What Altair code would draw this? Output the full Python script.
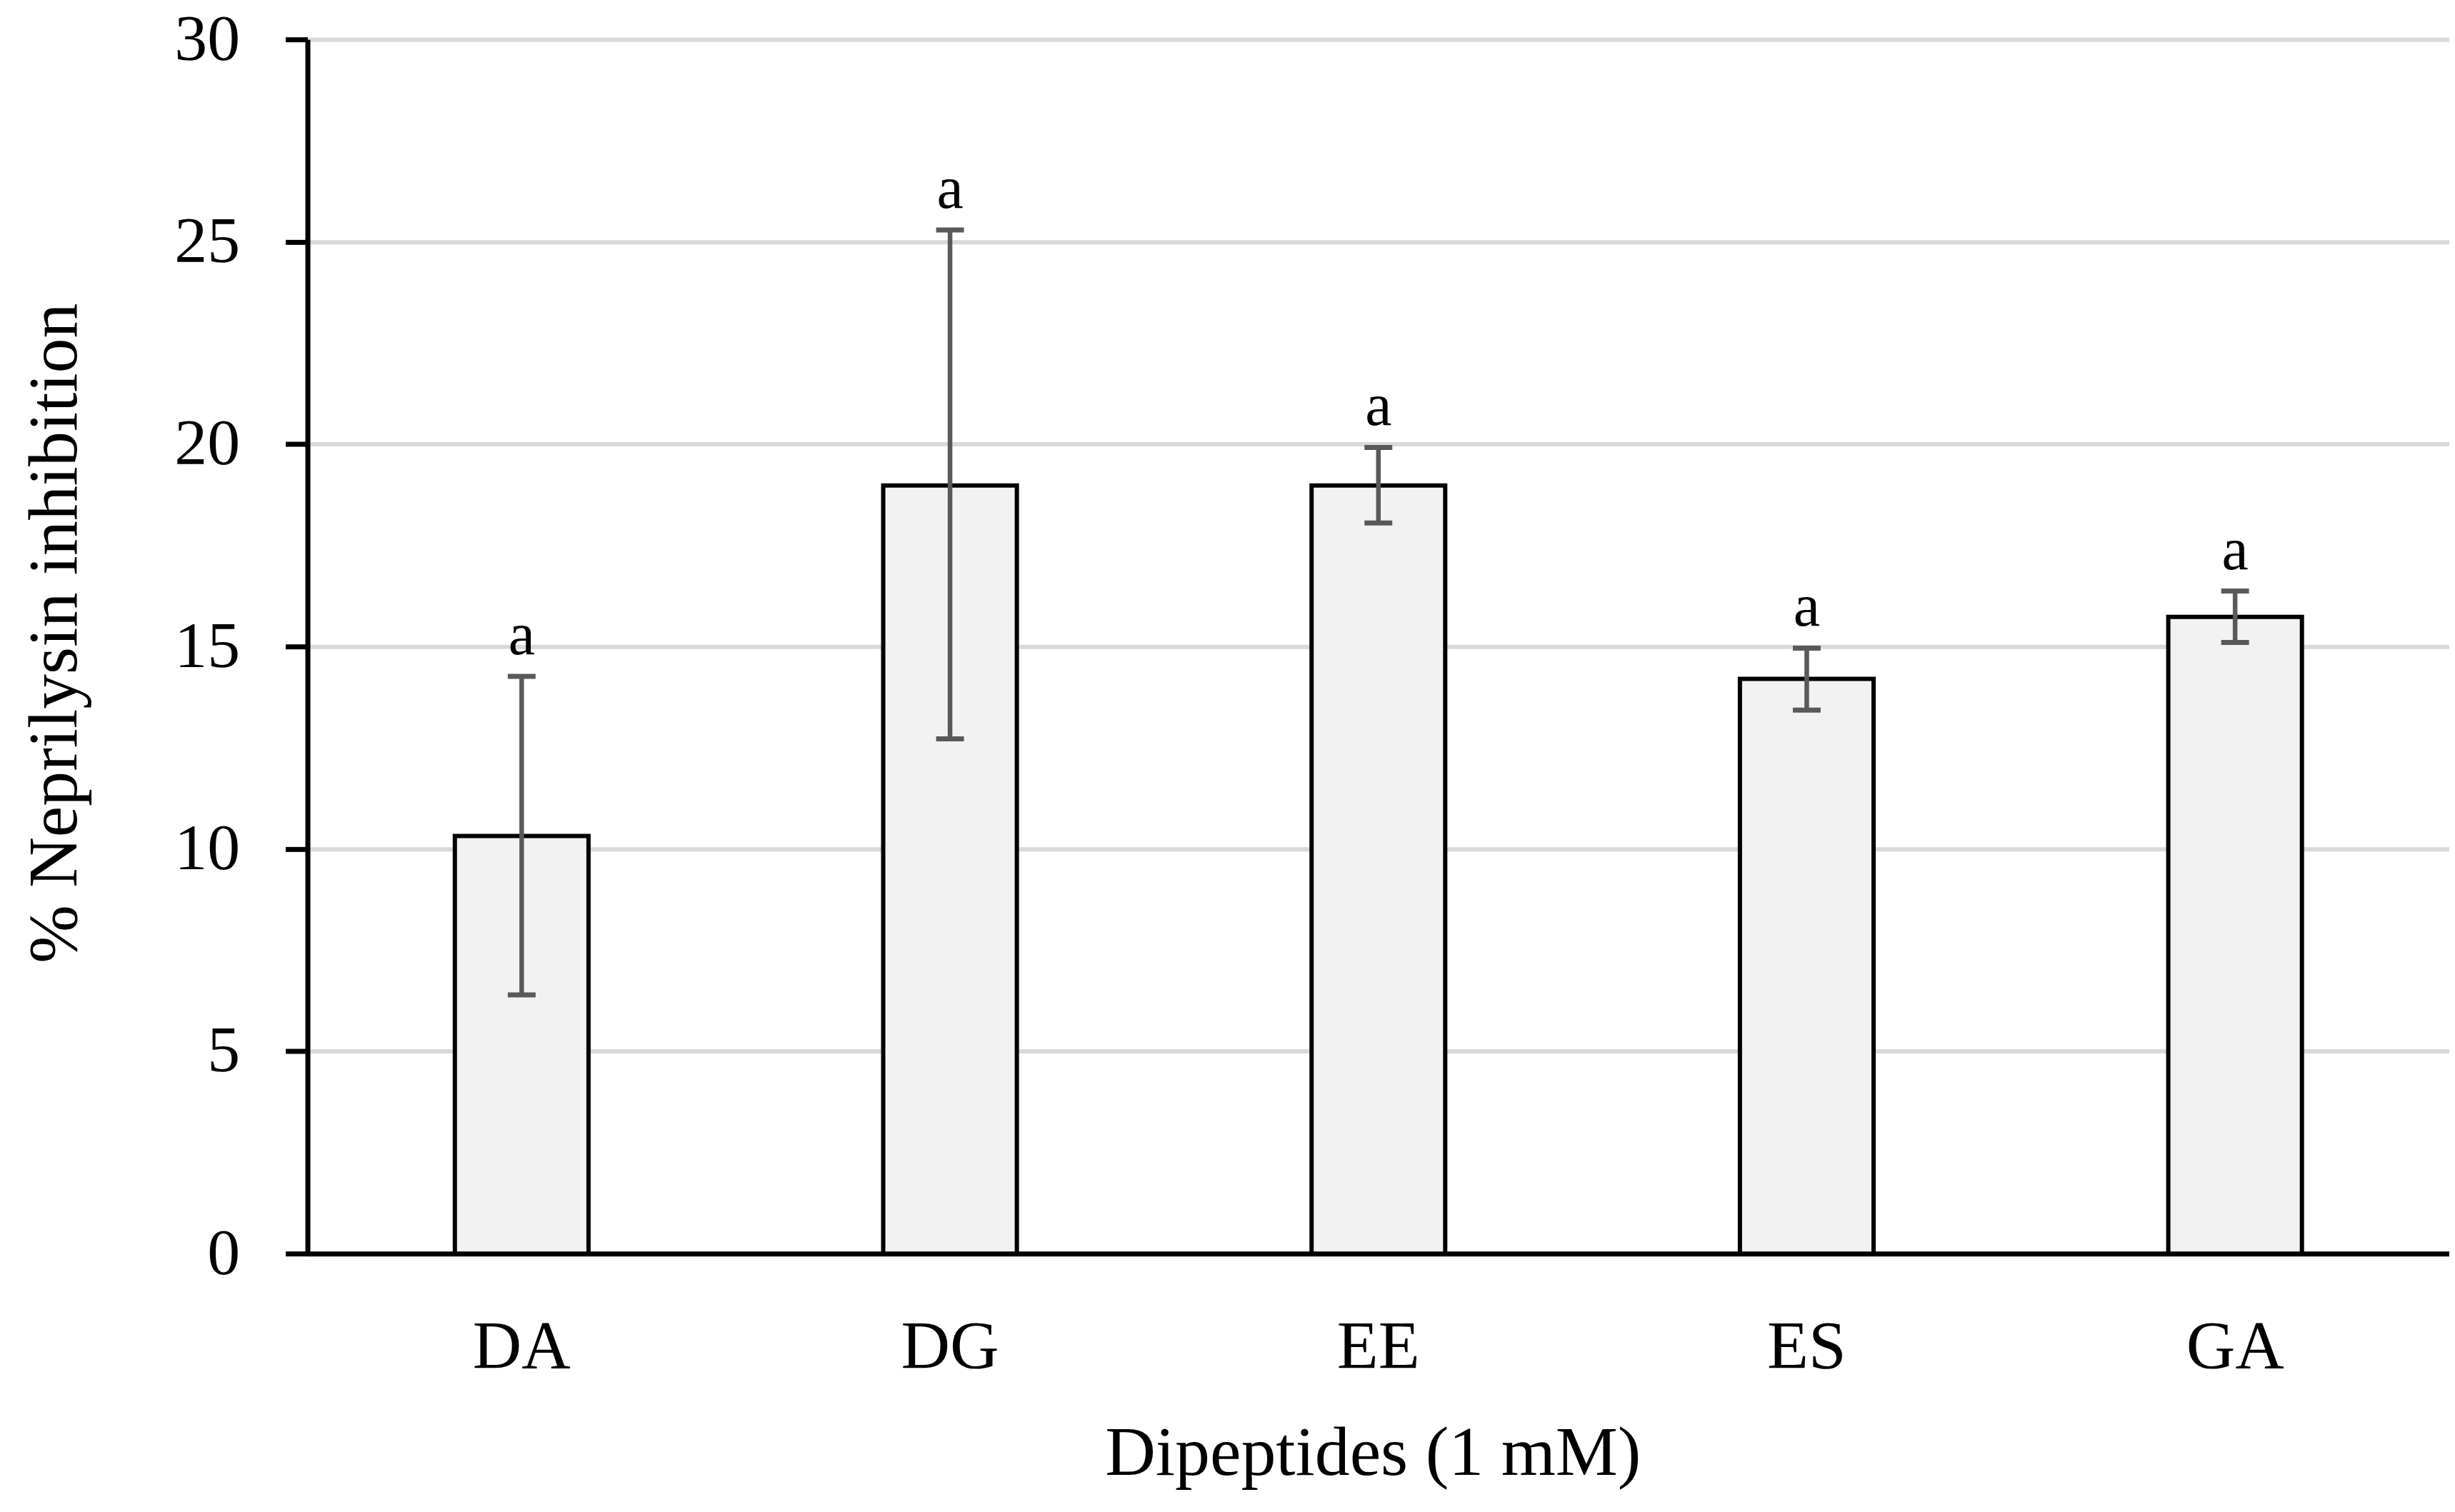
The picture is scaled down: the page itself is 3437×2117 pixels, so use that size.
import altair as alt
import pandas as pd

categories = ["DA", "DG", "EE", "ES", "GA"]
means = [10.32, 18.98, 18.98, 14.20, 15.73]
err_high = [14.26, 25.29, 19.92, 14.96, 16.37]
err_low = [6.39, 12.72, 18.05, 13.43, 15.10]
letters = ["a", "a", "a", "a", "a"]

df = pd.DataFrame({
    "cat": categories,
    "mean": means,
    "hi": err_high,
    "lo": err_low,
    "letter": letters,
})

FONT = "Liberation Serif"

x_enc = alt.X(
    "cat:N",
    sort=categories,
    scale=alt.Scale(paddingInner=0.688, paddingOuter=0.344),
    axis=alt.Axis(
        title="Dipeptides (1 mM)",
        titleFont=FONT, titleFontSize=98, titleFontWeight="normal", titleColor="black",
        titleBaseline="alphabetic", titleY=310, titleX=1493,
        labelFont=FONT, labelFontSize=95, labelColor="black", labelAngle=0,
        labelBaseline="alphabetic", labelPadding=160,
        ticks=False, tickSize=0,
        domainColor="black", domainWidth=7, grid=False,
    ),
)

y_scale = alt.Scale(domain=[0, 30], nice=False, zero=True)
y_axis = alt.Axis(
    title="% Neprilysin inhibition",
    titleFont=FONT, titleFontSize=98, titleFontWeight="normal", titleColor="black",
    titleAngle=270, titleBaseline="alphabetic", titleX=-324, titleY=832, titleAlign="center",
    values=[0, 5, 10, 15, 20, 25, 30],
    format="d",
    labelFont=FONT, labelFontSize=92, labelColor="black", labelPadding=64,
    tickSize=31, tickWidth=7, tickColor="black",
    domainColor="black", domainWidth=7,
    grid=True, gridColor="#d9d9d9", gridWidth=6,
)

base = alt.Chart(df)

bars = base.mark_bar(fill="#f2f2f2", stroke="black", strokeWidth=6).encode(
    x=x_enc,
    y=alt.Y("mean:Q", scale=y_scale, axis=y_axis),
)

rules = base.mark_rule(color="#595959", strokeWidth=6.5).encode(
    x=alt.X("cat:N", sort=categories),
    y=alt.Y("lo:Q"),
    y2="hi:Q",
)

cap_hi = base.mark_tick(color="#595959", size=39, thickness=7, opacity=1).encode(
    x=alt.X("cat:N", sort=categories),
    y=alt.Y("hi:Q"),
)
cap_lo = base.mark_tick(color="#595959", size=39, thickness=7, opacity=1).encode(
    x=alt.X("cat:N", sort=categories),
    y=alt.Y("lo:Q"),
)

text = base.mark_text(font=FONT, fontSize=84, color="black", baseline="alphabetic", dy=-31).encode(
    x=alt.X("cat:N", sort=categories),
    y=alt.Y("hi:Q"),
    text="letter:N",
)

chart = alt.layer(bars, rules, cap_hi, cap_lo, text).properties(
    width=3002,
    height=1702,
    padding={"left": 423, "top": 46, "right": 0, "bottom": 360},
    autosize=alt.AutoSizeParams(type="none"),
    background="white",
).configure_view(strokeWidth=0)

chart.save("out.html", embed_options={"renderer": "svg", "actions": False})
